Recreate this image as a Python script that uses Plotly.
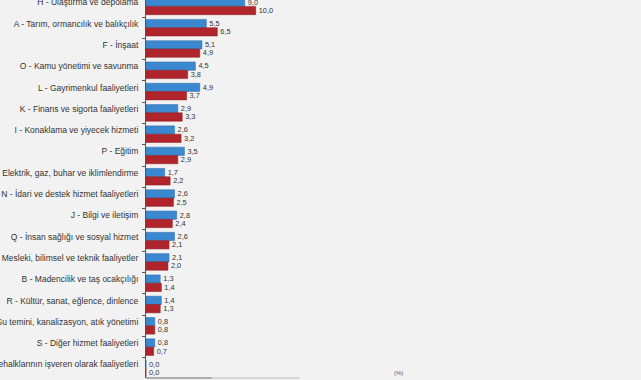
import plotly.graph_objects as go

categories = [
    "H - Ulaştırma ve depolama",
    "A - Tarım, ormancılık ve balıkçılık",
    "F - İnşaat",
    "O - Kamu yönetimi ve savunma",
    "L - Gayrimenkul faaliyetleri",
    "K - Finans ve sigorta faaliyetleri",
    "I - Konaklama ve yiyecek hizmeti",
    "P - Eğitim",
    "D - Elektrik, gaz, buhar ve iklimlendirme",
    "N - İdari ve destek hizmet faaliyetleri",
    "J - Bilgi ve iletişim",
    "Q - İnsan sağlığı ve sosyal hizmet",
    "M - Mesleki, bilimsel ve teknik faaliyetler",
    "B - Madencilik ve taş ocakçılığı",
    "R - Kültür, sanat, eğlence, dinlence",
    "E - Su temini, kanalizasyon, atık yönetimi",
    "S - Diğer hizmet faaliyetleri",
    "T - Hanehalklarının işveren olarak faaliyetleri",
]
series_blue = [9.0, 5.5, 5.1, 4.5, 4.9, 2.9, 2.6, 3.5, 1.7, 2.6, 2.8, 2.6, 2.1, 1.3, 1.4, 0.8, 0.8, 0.0]
series_red = [10.0, 6.5, 4.9, 3.8, 3.7, 3.3, 3.2, 2.9, 2.2, 2.5, 2.4, 2.1, 2.0, 1.4, 1.3, 0.8, 0.7, 0.0]
name_blue = "2022"
name_red = "2023"


def fmt(v):
    return f"{v:.1f}".replace(".", ",")


font_lab = "Liberation Sans, Arial, sans-serif"

fig = go.Figure()
fig.add_trace(go.Bar(
    y=categories, x=series_blue, orientation="h", name=name_blue,
    marker=dict(color="#3a88d0", line=dict(color="#2d6aa6", width=0.5)),
    text=[fmt(v) for v in series_blue], textposition="outside",
    textfont=dict(size=8, color="#333333", family=font_lab),
    cliponaxis=False,
))
fig.add_trace(go.Bar(
    y=categories, x=series_red, orientation="h", name=name_red,
    marker=dict(color="#b0252b", line=dict(color="#8a1a1f", width=0.5)),
    text=[fmt(v) for v in series_red], textposition="outside",
    textfont=dict(size=8, color="#333333", family=font_lab),
    cliponaxis=False,
))

n = len(categories)
fig.update_layout(
    width=641, height=380,
    margin=dict(l=146, r=10, t=0, b=2),
    paper_bgcolor="#f2f2f2", plot_bgcolor="#f2f2f2",
    barmode="group", bargap=0.22, bargroupgap=0.0,
    showlegend=False,
    font=dict(family=font_lab, size=9, color="#333333"),
    xaxis=dict(range=[0, 44.2], showgrid=False, zeroline=False,
               showticklabels=False, showline=False, automargin=False),
    yaxis=dict(type="category", categoryorder="array", categoryarray=categories,
               range=[n - 1 + 0.45, -0.30], showgrid=False, zeroline=False,
               showline=True, linecolor="#555555", linewidth=1,
               ticks="outside", tickson="boundaries", ticklen=3, tickcolor="#555555",
               ticklabelstandoff=5, ticklabelshift=4,
               tickfont=dict(size=8.5, color="#333333", family=font_lab),
               automargin=False),
    shapes=[dict(type="line", xref="x", yref="paper", x0=0, x1=6, y0=0, y1=0,
                 line=dict(color="#666666", width=1.2)),
            dict(type="line", xref="x", yref="paper", x0=6, x1=14, y0=0, y1=0,
                 line=dict(color="#bbbbbb", width=1))],
    annotations=[dict(text="(%)", xref="paper", yref="paper", x=0.52, y=0.0,
                      xanchor="center", yanchor="bottom", showarrow=False,
                      font=dict(size=6, color="#555555"))],
)

fig.write_html(
    "out.html",
    config={"displayModeBar": False},
    post_script="document.body.style.margin='0';document.body.style.background='#f2f2f2';document.body.style.overflow='hidden';",
)
